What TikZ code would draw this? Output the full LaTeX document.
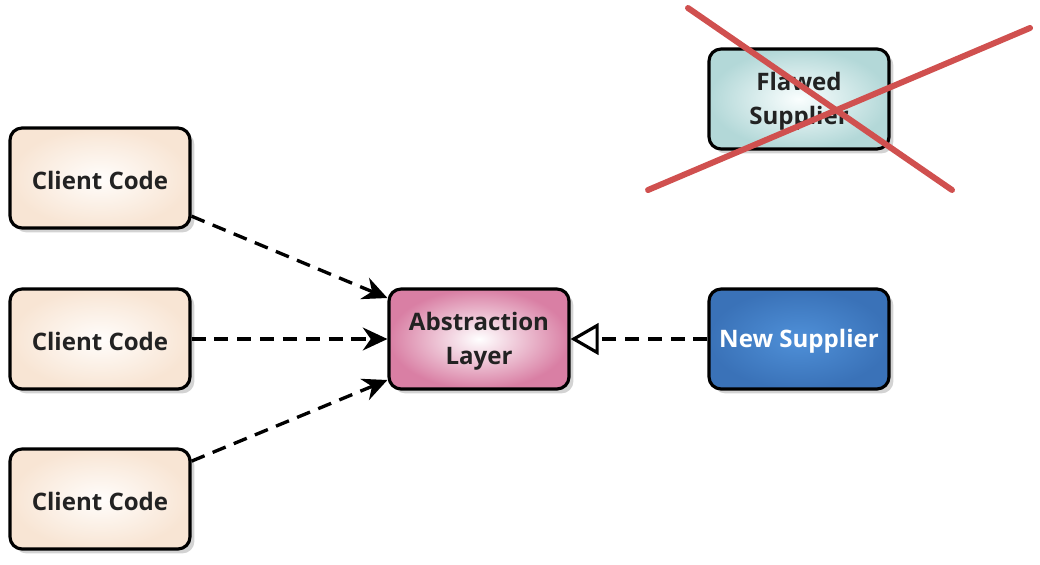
\documentclass[tikz,border=0pt]{standalone}
\usepackage{fontspec}
\setmainfont{Open Sans}
\usepackage{xcolor}
\usepackage{tikz}
\usetikzlibrary{arrows.meta,shadows,positioning}
\definecolor{clientin}{HTML}{FFFDFB}
\definecolor{clientout}{HTML}{F8E5D4}
\definecolor{absin}{HTML}{FFFFFF}
\definecolor{absout}{HTML}{D97FA4}
\definecolor{newin}{HTML}{4F90D8}
\definecolor{newout}{HTML}{3A72B8}
\definecolor{flawin}{HTML}{FAFEFE}
\definecolor{flawout}{HTML}{B3D8D8}
\definecolor{crossred}{HTML}{D0504F}
\definecolor{textdark}{HTML}{222222}

\begin{document}
\begin{tikzpicture}[line cap=round,line join=round,x=0.02cm,y=-0.02cm,
  box/.style={draw=black,line width=1.8pt,rounded corners=0.24cm,minimum width=3.6cm,minimum height=2cm,
    align=center,font=\fontsize{13.7}{19}\selectfont\bfseries,text=textdark,
    drop shadow={opacity=0.35,shadow xshift=2.5pt,shadow yshift=-2.5pt}},
  oneline/.style={text height=13pt},
  twoline/.style={text height=32pt},
  client/.style={box,oneline,inner color=clientin,outer color=clientout},
  abstr/.style={box,twoline,inner color=absin,outer color=absout},
  newsup/.style={box,oneline,inner color=newin,outer color=newout,text=white},
  flawed/.style={box,twoline,inner color=flawin,outer color=flawout},
  uses/.style={line width=1.9pt,line cap=butt,dash pattern=on 8pt off 5pt,-{Stealth[length=14pt,width=13pt,inset=4.5pt]}},
  realizes/.style={line width=1.9pt,line cap=butt,dash pattern=on 8pt off 5pt,-{Triangle[open,length=16pt,width=18pt,line width=1.8pt]}},
  cross/.style={draw=crossred,line width=3.4pt}]
\useasboundingbox (0,0) rectangle (1040,564);
\node[client] (client1) at (100,178) {Client Code};
\node[client] (client2) at (100,339) {Client Code};
\node[client] (client3) at (100,499) {Client Code};
\node[abstr] (layer) at (479,339) {Abstraction\\Layer};
\node[newsup] (supplier) at (799,339) {New Supplier};
\node[flawed] (flawed) at (799,99) {Flawed\\Supplier};
\draw[uses] (client1) -- ([yshift=0.82cm]layer.west);
\draw[uses] (client2) -- (layer.west);
\draw[uses] (client3) -- ([yshift=-0.82cm]layer.west);
\draw[realizes] (supplier) -- (layer);
\draw[cross] (688,8) -- (952,190);
\draw[cross] (648,190) -- (1030,28);
\end{tikzpicture}
\end{document}
